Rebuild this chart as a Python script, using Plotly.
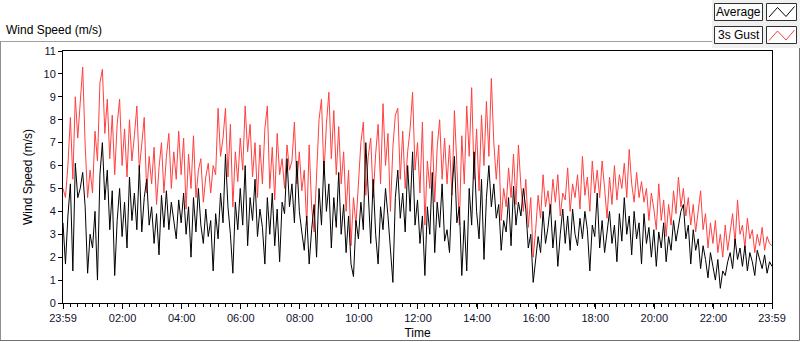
import pandas as pd
import plotly.graph_objects as go

# ---------------- data (5-minute samples) ----------------
START = "2023-01-01 23:59"
STEP = "5min"

GUST = (
    [5.0, 4.6, 6.0, 8.1, 5.4, 9.0, 7.2, 8.6, 10.3, 6.9, 4.6, 5.8]
    + [4.8, 7.5, 6.2, 9.6, 10.2, 7.4, 8.9, 6.3, 8.2, 5.6, 7.8, 8.9]
    + [6.0, 7.6, 5.5, 8.0, 6.2, 7.3, 8.6, 5.8, 7.0, 8.1, 4.8, 6.4]
    + [5.2, 6.8, 4.3, 5.9, 7.0, 4.8, 6.4, 7.4, 5.0, 6.6, 5.4, 7.5]
    + [5.6, 7.2, 4.1, 6.5, 5.0, 7.3, 4.6, 5.8, 6.3, 4.4, 5.5, 6.1]
    + [4.8, 6.0, 5.6, 8.5, 6.4, 7.2, 8.5, 5.5, 7.8, 4.2, 6.6, 5.3]
    + [7.2, 5.8, 8.6, 6.6, 7.8, 5.5, 7.0, 4.6, 6.9, 5.2, 7.6, 8.6]
    + [5.0, 6.8, 4.5, 7.4, 5.6, 6.3, 5.0, 6.9, 5.8, 6.2, 7.9, 5.2]
    + [6.6, 4.9, 5.8, 3.4, 6.9, 4.2, 3.1, 5.4, 8.0, 8.9, 5.6, 7.8]
    + [9.2, 6.3, 8.4, 5.6, 7.7, 5.2, 6.6, 4.0, 5.8, 2.5, 4.6, 3.4]
    + [5.5, 7.0, 7.9, 4.7, 6.4, 7.2, 4.6, 6.5, 7.8, 5.2, 8.7, 6.0]
    + [7.4, 4.0, 6.8, 8.2, 8.5, 5.4, 7.5, 5.0, 6.6, 7.6, 9.2, 5.8]
    + [7.0, 4.8, 7.9, 3.4, 6.2, 5.0, 7.5, 4.4, 6.8, 8.0, 5.4, 7.2]
    + [5.2, 6.9, 4.7, 8.4, 6.0, 3.4, 7.3, 5.2, 8.6, 6.4, 9.4, 5.4]
    + [7.6, 4.9, 8.2, 6.0, 8.8, 6.4, 9.8, 7.0, 5.4, 6.9, 3.6, 5.0]
    + [4.2, 5.9, 4.6, 6.5, 4.3, 6.9, 5.1, 4.0, 5.4, 3.3, 4.6, 2.0]
    + [3.2, 4.7, 3.7, 5.6, 4.2, 4.9, 3.9, 5.4, 4.4, 5.6, 3.8, 4.8]
    + [4.5, 5.9, 4.0, 5.2, 4.6, 5.6, 4.1, 6.4, 4.7, 5.5, 4.0, 6.2]
    + [4.8, 5.8, 4.6, 6.2, 5.0, 3.7, 5.5, 4.3, 6.0, 4.5, 5.6, 5.0]
    + [6.1, 4.6, 6.7, 5.2, 4.4, 5.7, 4.6, 5.3, 4.4, 5.0, 3.6, 4.8]
    + [4.1, 3.2, 5.2, 3.6, 4.5, 2.9, 4.3, 3.4, 4.9, 3.9, 5.5, 4.2]
    + [5.0, 3.8, 4.6, 3.4, 4.3, 3.1, 4.0, 4.9, 3.2, 3.9, 2.4, 3.5]
    + [2.6, 3.6, 2.2, 3.0, 2.0, 3.4, 2.3, 3.2, 3.9, 2.6, 4.5, 3.0]
    + [3.4, 2.4, 3.7, 2.8, 3.2, 2.2, 3.0, 2.5, 3.3, 2.3, 2.9, 2.6]
    + [2.5]
)

AVERAGE = (
    [3.5, 1.7, 3.8, 5.2, 1.4, 6.1, 4.6, 5.0, 5.7, 4.2, 1.3, 3.0]
    + [2.4, 4.0, 1.0, 5.6, 7.0, 4.5, 5.8, 3.2, 4.9, 1.2, 3.6, 5.0]
    + [2.9, 4.4, 2.4, 5.5, 3.6, 4.8, 3.2, 6.0, 3.1, 4.6, 5.4, 3.4]
    + [4.2, 2.6, 3.9, 2.1, 4.7, 3.3, 4.9, 3.2, 4.4, 3.6, 2.8, 4.5]
    + [3.5, 4.8, 3.0, 4.2, 2.0, 4.6, 3.1, 5.0, 3.4, 2.6, 4.1, 2.9]
    + [3.6, 1.4, 3.9, 2.8, 4.8, 3.5, 6.5, 4.2, 3.0, 1.3, 4.4, 3.2]
    + [5.0, 3.4, 6.0, 2.5, 4.6, 3.6, 5.4, 2.9, 4.1, 3.3, 1.7, 4.6]
    + [3.0, 4.8, 2.5, 4.1, 1.8, 4.4, 3.9, 6.3, 4.2, 5.2, 3.5, 6.2]
    + [4.0, 3.1, 2.3, 3.8, 1.7, 3.2, 4.3, 2.0, 5.0, 3.4, 6.2, 4.0]
    + [5.2, 2.4, 4.6, 3.3, 5.7, 3.0, 4.3, 2.2, 3.8, 1.7, 1.15, 3.6]
    + [2.8, 4.4, 3.2, 7.0, 4.5, 2.6, 5.4, 3.0, 1.7, 4.2, 3.2, 5.0]
    + [3.8, 2.4, 0.9, 4.6, 5.8, 3.7, 4.8, 3.1, 6.0, 4.0, 6.6, 3.4]
    + [4.5, 2.6, 3.8, 1.2, 4.2, 3.0, 5.7, 2.2, 4.4, 3.3, 5.2, 2.7]
    + [3.2, 2.2, 4.9, 6.4, 3.5, 4.2, 1.2, 3.6, 1.4, 5.0, 3.4, 6.6]
    + [4.0, 2.8, 5.4, 1.9, 4.6, 6.0, 4.2, 5.2, 3.7, 4.3, 2.3, 3.6]
    + [3.1, 4.6, 2.5, 5.1, 3.4, 4.4, 3.8, 5.0, 4.1, 2.4, 3.0, 0.9]
    + [1.8, 2.9, 2.2, 4.0, 2.6, 3.3, 4.3, 2.4, 3.6, 1.6, 3.0, 4.1]
    + [2.6, 3.8, 2.3, 4.1, 3.0, 2.5, 3.7, 2.8, 4.0, 3.2, 1.4, 3.4]
    + [2.9, 4.8, 2.4, 3.6, 2.2, 3.2, 4.0, 2.6, 3.4, 1.8, 3.9, 2.7]
    + [4.6, 3.0, 3.8, 2.1, 4.0, 2.8, 3.5, 1.7, 3.9, 2.6, 3.3, 2.0]
    + [3.2, 1.6, 3.1, 2.4, 3.5, 1.8, 2.9, 2.3, 3.6, 2.7, 3.3, 4.0]
    + [4.3, 2.8, 3.4, 1.7, 3.2, 2.3, 2.8, 1.5, 2.5, 1.9, 1.1, 2.2]
    + [1.6, 1.0, 1.9, 0.64, 1.4, 1.2, 1.8, 2.2, 1.5, 2.8, 1.9, 2.4]
    + [1.6, 2.5, 1.4, 2.2, 1.8, 1.2, 2.3, 1.9, 1.5, 2.1, 1.3, 1.8]
    + [1.6]
)

SERIES_NAMES = ["Average", "3s Gust"]
TICK_LABELS = ["23:59", "02:00", "04:00", "06:00", "08:00", "10:00", "12:00",
               "14:00", "16:00", "18:00", "20:00", "22:00", "23:59"]
Y_TICKS = list(range(0, 12))

# ---------------- build ----------------
times = pd.date_range(START, periods=len(AVERAGE), freq=STEP)
start = pd.Timestamp(START)
end = start + pd.Timedelta(hours=24)
day2 = (start + pd.Timedelta(days=1)).normalize()
tick_vals = [start] + [day2 + pd.Timedelta(TICK_LABELS[i] + ":00") for i in range(1, len(TICK_LABELS) - 1)] + [end]

FONT = "Liberation Sans"
RED = "#ff4040"

fig = go.Figure()
fig.add_trace(go.Scatter(x=times, y=GUST, mode="lines", name=SERIES_NAMES[1],
                         line=dict(color=RED, width=1)))
fig.add_trace(go.Scatter(x=times, y=AVERAGE, mode="lines", name=SERIES_NAMES[0],
                         line=dict(color="black", width=1)))

W, H = 800, 342
L, R, T, B = 63, 772, 51, 303


def xp(px):
    return (px - L) / (R - L)


def yp(py):
    return (B - py) / (B - T)


def line(x0, y0, x1, y1, color="#a0a0a0"):
    return dict(type="line", xref="paper", yref="paper", x0=xp(x0), y0=yp(y0),
                x1=xp(x1), y1=yp(y1), line=dict(color=color, width=1))


def rect(x0, y0, x1, y1, fill, color):
    return dict(type="rect", xref="paper", yref="paper", x0=xp(x0), y0=yp(y0),
                x1=xp(x1), y1=yp(y1), fillcolor=fill, line=dict(color=color, width=1))


def zig(pts, color):
    d = "M " + " L ".join(f"{xp(a)},{yp(b)}" for a, b in pts)
    return dict(type="path", xref="paper", yref="paper", path=d,
                line=dict(color=color, width=1))


shapes = [
    dict(type="rect", xref="paper", yref="paper", x0=xp(712), y0=yp(0), x1=xp(800), y1=yp(48),
         fillcolor="#f0f0f0", line=dict(width=0)),
    line(0, 41.5, 712, 41.5),
    line(0.5, 41.5, 0.5, 340.5, "#909090"),
    line(0, 340.5, 799.5, 340.5, "#707070"),
    line(799.5, 48, 799.5, 340.5, "#707070"),
    rect(714.5, 3.5, 762.5, 20.5, "#fcfcfc", "#303030"),
    rect(714.5, 26.5, 762.5, 43.5, "#fcfcfc", "#303030"),
    rect(766.5, 3.5, 796.5, 20.5, "white", "#303030"),
    rect(766.5, 26.5, 796.5, 43.5, "white", "#303030"),
    zig([(769, 17), (777.5, 7.5), (786, 16.5), (794.5, 6.5)], "black"),
    zig([(769, 40.5), (777.5, 31), (786, 40), (794.5, 30)], RED),
]

annotations = [
    dict(text="Wind Speed (m/s)", xref="paper", yref="paper", x=xp(4), y=yp(30),
         xanchor="left", yanchor="middle", showarrow=False,
         font=dict(family=FONT, size=12, color="black")),
    dict(text=SERIES_NAMES[0], xref="paper", yref="paper", x=xp(738.5), y=yp(12),
         xanchor="center", yanchor="middle", showarrow=False,
         font=dict(family=FONT, size=12, color="black")),
    dict(text=SERIES_NAMES[1], xref="paper", yref="paper", x=xp(738.5), y=yp(35),
         xanchor="center", yanchor="middle", showarrow=False,
         font=dict(family=FONT, size=12, color="black")),
]

fig.update_layout(
    width=W, height=H,
    margin=dict(l=L, r=W - R, t=T, b=H - B, pad=0, autoexpand=False),
    paper_bgcolor="white", plot_bgcolor="white",
    showlegend=False,
    font=dict(family=FONT, size=11, color="black"),
    shapes=shapes,
    annotations=annotations,
    xaxis=dict(
        range=[start, end], tickvals=tick_vals, ticktext=TICK_LABELS, automargin=False,
        ticks="outside", ticklen=5, tickcolor="black", showgrid=False, zeroline=False,
        showline=True, linecolor="black", linewidth=1, mirror=True,
        tickfont=dict(family=FONT, size=11, color="#101030"),
        minor=dict(ticks="outside", ticklen=3, tickcolor="black", dtick=15 * 60 * 1000,
                   tick0=start, showgrid=False),
        title=dict(text="Time", font=dict(family=FONT, size=12, color="black"), standoff=5),
    ),
    yaxis=dict(
        range=[0, 11], tickvals=Y_TICKS, ticks="outside", ticklen=4, tickcolor="black",
        automargin=False,
        showgrid=False, zeroline=False, showline=True, linecolor="black", linewidth=1,
        mirror=True, tickfont=dict(family=FONT, size=11, color="#101030"),
        title=dict(text="Wind Speed (m/s)", font=dict(family=FONT, size=12, color="black"),
                   standoff=8),
    ),
)

fig.write_html("out.html", config={"displayModeBar": False},
               post_script="document.body.style.margin='0';")
